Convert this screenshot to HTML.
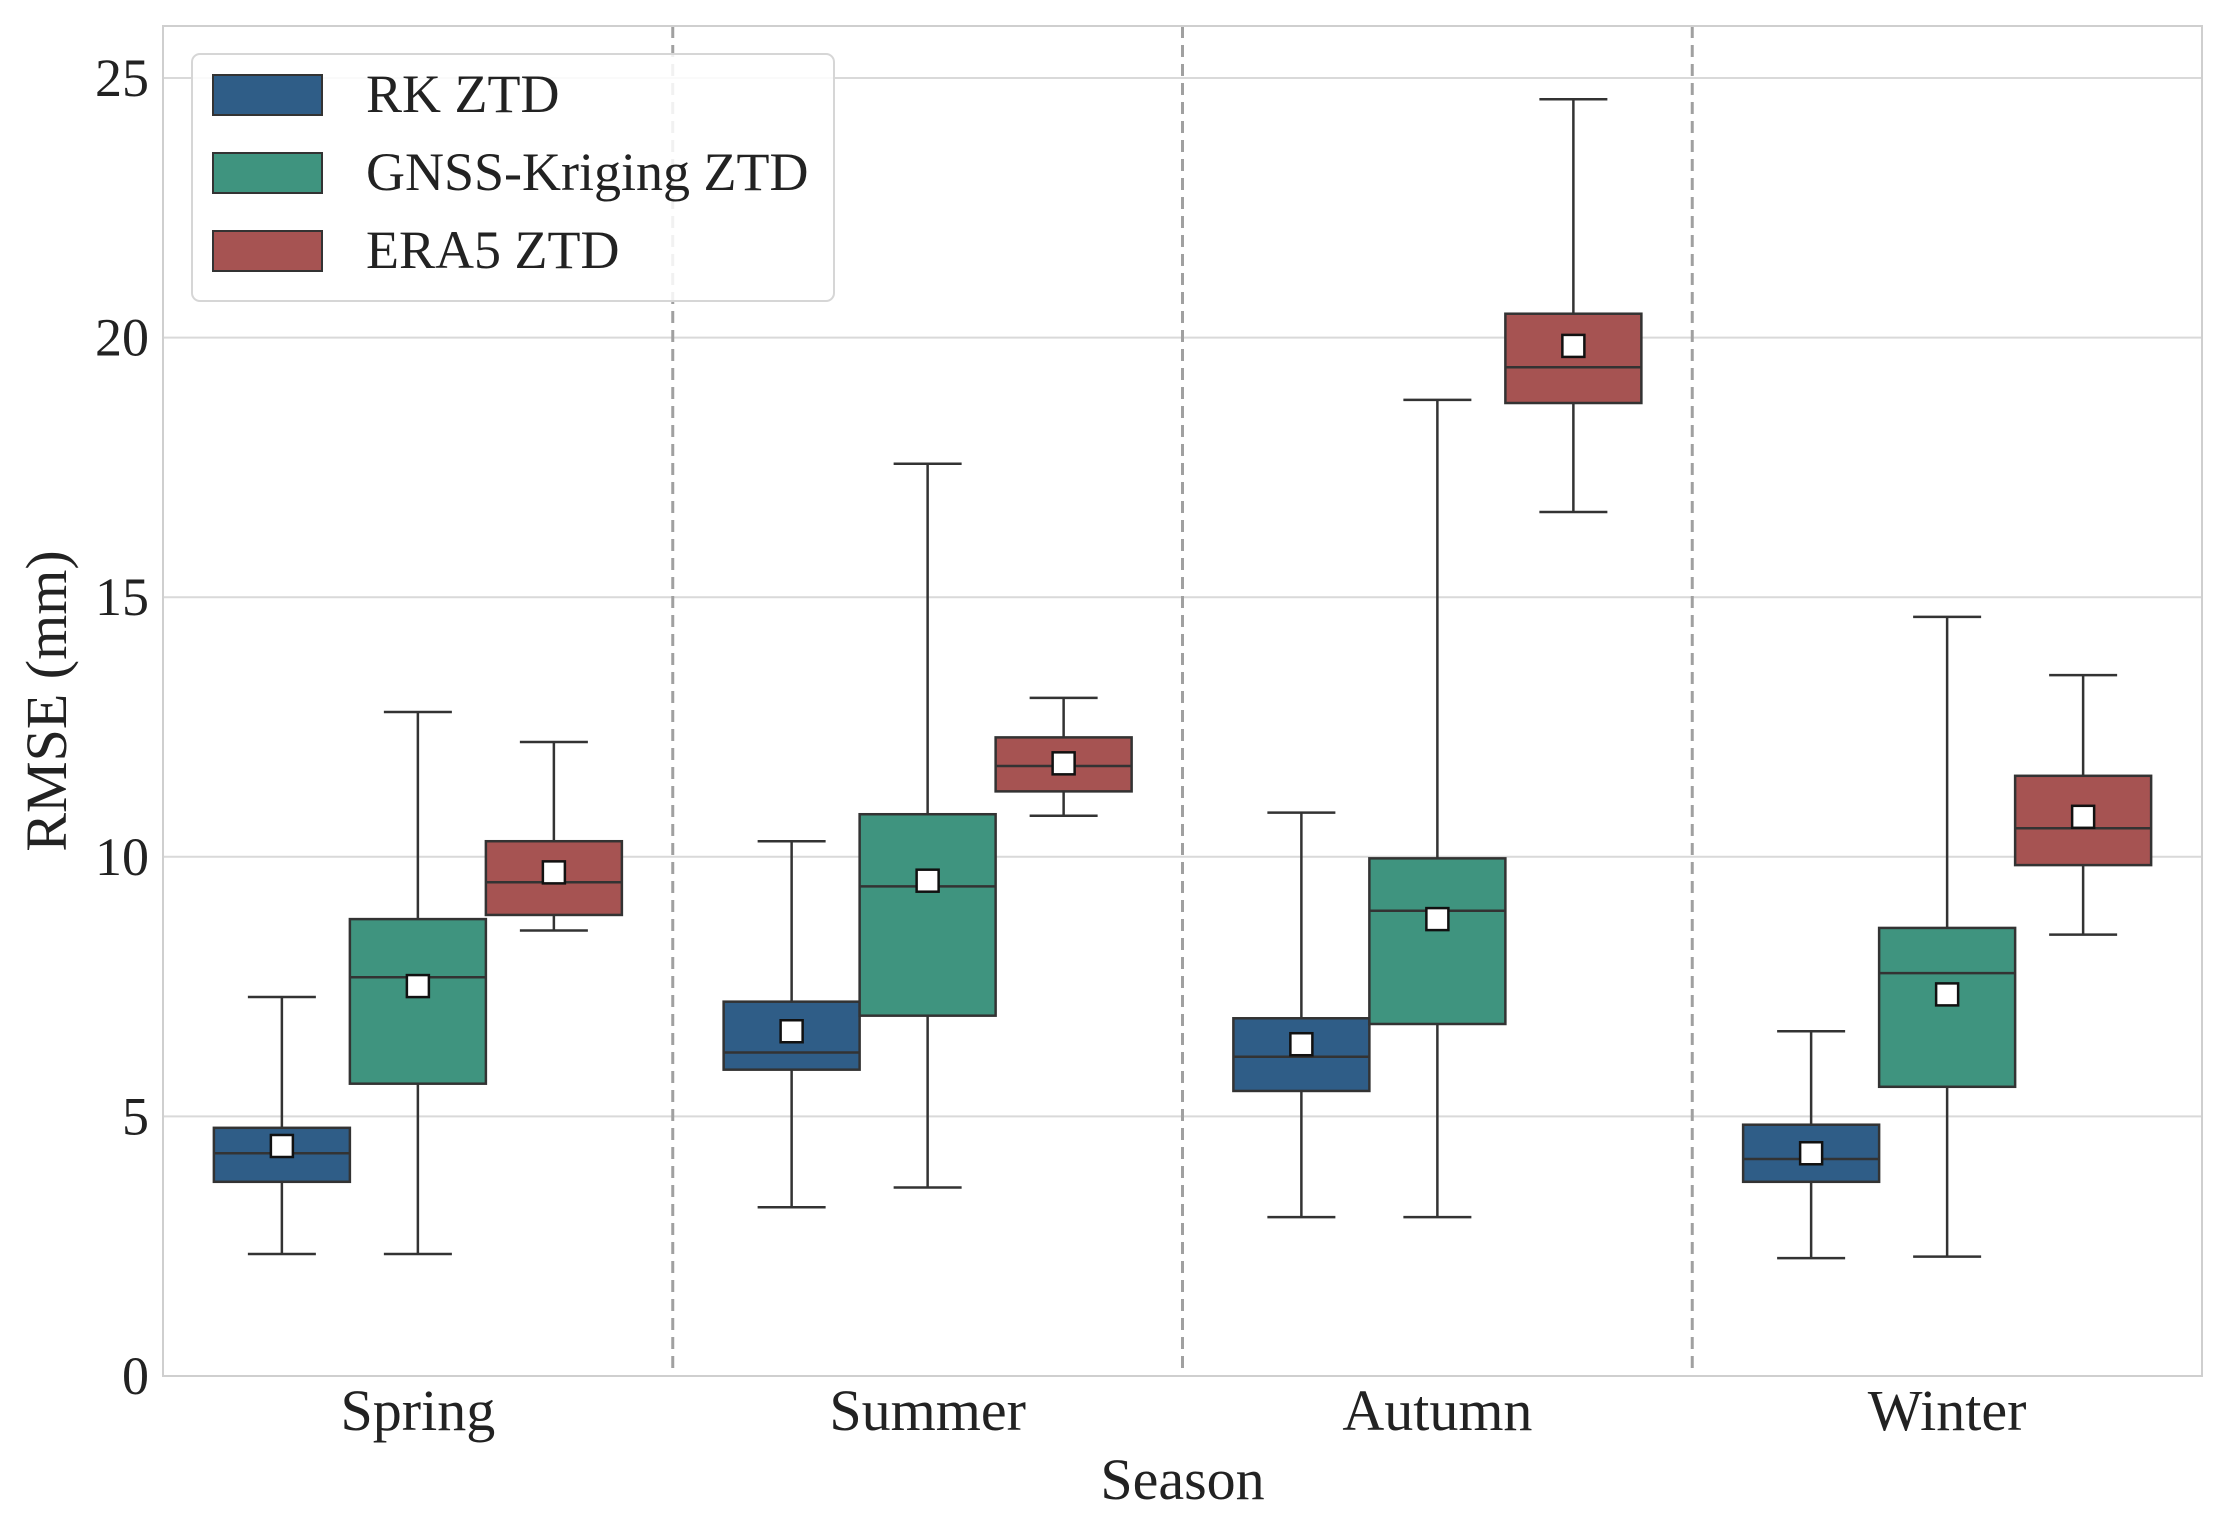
<!DOCTYPE html>
<html><head><meta charset="utf-8"><style>
html,body{margin:0;padding:0;background:#fff;}
svg{display:block;font-family:"Liberation Serif",serif;}
</style></head><body>
<svg id="chart" width="2225" height="1522" viewBox="0 0 2225 1522" xmlns="http://www.w3.org/2000/svg"></svg>
<script>
const categories = ["Spring","Summer","Autumn","Winter"];
const seriesNames = ["RK ZTD","GNSS-Kriging ZTD","ERA5 ZTD"];
const seriesColors = ["#2f5d87","#3f947f","#a65352"];
// each: [low whisker, q1, median, q3, high whisker, mean]
const rkStats = [[2.35,3.74,4.29,4.78,7.3,4.43],[3.25,5.9,6.23,7.21,10.3,6.64],[3.06,5.49,6.15,6.89,10.85,6.39],[2.27,3.74,4.18,4.84,6.64,4.29]];
const gnssStats = [[2.35,5.63,7.68,8.8,12.79,7.51],[3.63,6.94,9.43,10.82,17.57,9.54],[3.06,6.78,8.96,9.97,18.8,8.8],[2.3,5.57,7.76,8.63,14.62,7.35]];
const era5Stats = [[8.58,8.88,9.51,10.3,12.21,9.7],[10.79,11.26,11.75,12.3,13.06,11.8],[16.64,18.74,19.43,20.46,24.59,19.84],[8.5,9.84,10.55,11.56,13.5,10.77]];
const yTicks = [0,5,10,15,20,25];

const NS="http://www.w3.org/2000/svg";
const svg=document.getElementById('chart');
const L=163,R=2202,T=26,B=1376;
const yMin=0,yMax=25,y0=1376,y25=78;
const y=v=>y0+(v-yMin)/(yMax-yMin)*(y25-y0);
const band=(R-L)/categories.length;
const xc=i=>L+band*(i+0.5);
function el(tag,attrs,parent){const e=document.createElementNS(NS,tag);for(const k in attrs)e.setAttribute(k,attrs[k]);(parent||svg).appendChild(e);return e;}

yTicks.forEach(t=>{
  const g=el('line',{x1:L,x2:R,y1:y(t),y2:y(t),stroke:'#d9d9d9','stroke-width':2});
  
  
  const tx=el('text',{x:149,y:y(t)+18,'text-anchor':'end','font-size':54,fill:'#222'});
  tx.textContent=t;
  
  
});
for(let i=1;i<categories.length;i++){
  const s=el('line',{x1:L+band*i,x2:L+band*i,y1:T,y2:B,stroke:'#a0a0a0','stroke-width':3,'stroke-dasharray':'12,7'});
  
  
}
const fr=el('rect',{x:L,y:T,width:R-L,height:B-T,fill:'none',stroke:'#cfcfcf','stroke-width':2});



const allStats=[rkStats,gnssStats,era5Stats];
const off=136,bw=136,cw=68;
categories.forEach((c,i)=>{
  allStats.forEach((st,s)=>{
    const d=st[i];const cx=xc(i)+(s-1)*off;
    const g=el('g',{});
    
    
    const st2={stroke:'#333','stroke-width':2.5};
    el('line',Object.assign({x1:cx,x2:cx,y1:y(d[0]),y2:y(d[1])},st2),g);
    el('line',Object.assign({x1:cx,x2:cx,y1:y(d[3]),y2:y(d[4])},st2),g);
    el('line',Object.assign({x1:cx-cw/2,x2:cx+cw/2,y1:y(d[0]),y2:y(d[0])},st2),g);
    el('line',Object.assign({x1:cx-cw/2,x2:cx+cw/2,y1:y(d[4]),y2:y(d[4])},st2),g);
    el('rect',Object.assign({x:cx-bw/2,y:y(d[3]),width:bw,height:y(d[1])-y(d[3]),fill:seriesColors[s]},st2),g);
    el('line',Object.assign({x1:cx-bw/2,x2:cx+bw/2,y1:y(d[2]),y2:y(d[2])},st2),g);
    el('rect',{x:cx-11,y:y(d[5])-11,width:22,height:22,fill:'#fff',stroke:'#111','stroke-width':2.5},g);
  });
  const t=el('text',{x:xc(i),y:1430,'text-anchor':'middle','font-size':58,fill:'#222'});
  t.textContent=c;
  
  
});
const xl=el('text',{x:(L+R)/2,y:1499,'text-anchor':'middle','font-size':58,fill:'#222'});
xl.textContent='Season';


const yl=el('text',{x:0,y:0,'text-anchor':'middle','font-size':58,fill:'#222',transform:'translate(66,701) rotate(-90)'});
yl.textContent='RMSE (mm)';



const lg=el('g',{});


el('rect',{x:192,y:54,width:642,height:247,rx:8,fill:'#fff','fill-opacity':0.85,stroke:'#d6d6d6','stroke-width':2},lg);
seriesNames.forEach((n,s)=>{
  const cy=95+s*78;
  const e=el('g',{},lg);
  
  
  el('rect',{x:213,y:cy-20,width:109,height:40,fill:seriesColors[s],stroke:'#333','stroke-width':2},e);
  const t=el('text',{x:366,y:cy+17,'font-size':54,fill:'#222'},e);
  t.textContent=n;
});
</script>
</body></html>
